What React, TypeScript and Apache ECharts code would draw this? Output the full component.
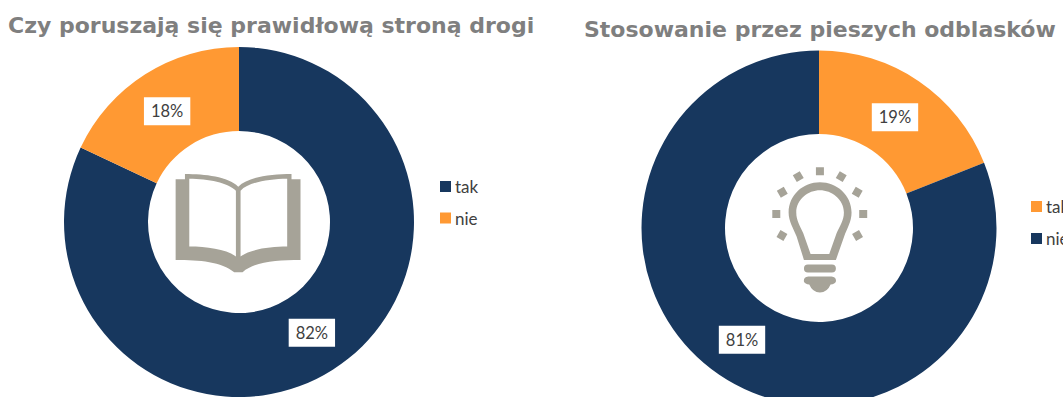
import React, { useEffect, useRef } from "react";
import * as echarts from "echarts";

// Road-safety survey: two doughnuts with an icon in each hole.
const leftTitle = "Czy poruszają się prawidłową stroną drogi";
const rightTitle = "Stosowanie przez pieszych odblasków";
const leftNames = ["tak", "nie"];
const leftValues = [82, 18];
const rightNames = ["tak", "nie"];
const rightValues = [19, 81];

const NAVY = "#17375E";
const ORANGE = "#FF9933";
const ICON = "#A6A398";
const LABEL_FONT = "Lato";

const bookPath =
  "M107,88 L135,88 L135,72 C195,72 265,80 295,110 C325,80 395,72 455,72 L455,88 L482,88 L482,330 " +
  "C410,330 345,335 308,367 L283,367 C245,335 180,330 107,330 Z " +
  "M148,86 L148,290 C200,290 260,298 288,320 L288,122 C265,98 205,86 148,86 Z " +
  "M442,86 C385,86 325,98 302,122 L302,320 C330,298 390,290 442,290 Z";

// Small rotated square used for the rays around the bulb.
function ray(cx: number, cy: number, deg: number) {
  const h = 12;
  const a = (deg * Math.PI) / 180;
  const c = Math.cos(a);
  const s = Math.sin(a);
  const pts = [
    [-h, -h],
    [h, -h],
    [h, h],
    [-h, h],
  ].map(([x, y]) => `${(cx + x * c - y * s).toFixed(1)},${(cy + x * s + y * c).toFixed(1)}`);
  return `M${pts[0]} L${pts[1]} L${pts[2]} L${pts[3]} Z `;
}

const bulbPath =
  "M240,97 C190,97 146,135 146,188 C146,215 160,235 170,260 L192,330 L288,330 L312,262 " +
  "C322,235 335,215 335,188 C335,135 290,97 240,97 Z " +
  "M240,121 C275,121 312,148 312,188 C312,212 300,228 290,250 L268,312 L212,312 L190,250 " +
  "C180,228 169,212 169,188 C169,148 205,121 240,121 Z " +
  "M204,344 L276,344 A12,12 0 0 1 276,368 L204,368 A12,12 0 0 1 204,344 Z " +
  "M205,380 L275,380 Q290,382 288,395 Q285,403 272,404 Q262,428 240,428 Q218,428 208,404 " +
  "Q195,403 192,395 Q190,382 205,380 Z " +
  ray(240, 64, 0) +
  ray(175, 80, -30) +
  ray(304, 80, 30) +
  ray(127, 127, -30) +
  ray(352, 127, 30) +
  ray(109, 192, 0) +
  ray(370, 192, 0) +
  ray(126, 257, 30) +
  ray(353, 257, -30);

echarts.graphic.registerShape("bookIcon", echarts.graphic.extendPath(bookPath, {}));
echarts.graphic.registerShape("bulbIcon", echarts.graphic.extendPath(bulbPath, {}));

const titleStyle = {
  fontFamily: "DejaVu Sans",
  fontWeight: "bold" as const,
  fontSize: 22,
  color: "#7F7F7F",
};

const sliceLabel = {
  show: true,
  position: "inside" as const,
  formatter: "{c}%",
  fontFamily: LABEL_FONT,
  fontSize: 16.5,
  color: "#404040",
  backgroundColor: "#FFFFFF",
  padding: [6, 7, 5, 7],
};

const legendBase = {
  orient: "vertical" as const,
  icon: "rect",
  itemWidth: 11,
  itemHeight: 11,
  selectedMode: false,
  textStyle: { fontFamily: LABEL_FONT, fontSize: 17, color: "#404040", padding: [0, 0, 0, -1] },
};

export default function App() {
  const ref = useRef<HTMLDivElement>(null);

  useEffect(() => {
    document.body.style.margin = "0";
    document.body.style.overflow = "hidden";
    const chart = echarts.init(ref.current!, null, { renderer: "svg" });
    const leftColors = [NAVY, ORANGE];
    const rightColors = [ORANGE, NAVY];
    chart.setOption({
      animation: false,
      backgroundColor: "#FFFFFF",
      title: [
        { text: leftTitle, left: 3, top: 9, textStyle: titleStyle },
        { text: rightTitle, left: 579, top: 13, textStyle: titleStyle },
      ],
      legend: [
        {
          ...legendBase,
          itemGap: 14.5,
          left: 435,
          top: 173,
          data: leftNames.map((name, i) => ({ name, itemStyle: { color: leftColors[i] } })),
        },
        {
          ...legendBase,
          itemGap: 15,
          left: 1026,
          top: 193,
          data: rightNames.map((name, i) => ({ name, itemStyle: { color: rightColors[i] } })),
        },
      ],
      series: [
        {
          type: "pie",
          center: [239, 222],
          radius: [91, 175],
          startAngle: 90,
          clockwise: true,
          silent: true,
          label: sliceLabel,
          labelLine: { show: false },
          // Nudge each value tag a little towards the hole.
          labelLayout: (p: { dataIndex: number }) =>
            p.dataIndex === 0 ? { dx: 0, dy: -4 } : { dx: 1, dy: 4 },
          data: leftNames.map((name, i) => ({
            name,
            value: leftValues[i],
            itemStyle: { color: leftColors[i] },
          })),
        },
        {
          type: "pie",
          center: [819, 228],
          radius: [94, 177.5],
          startAngle: 90,
          clockwise: true,
          silent: true,
          label: sliceLabel,
          labelLine: { show: false },
          labelLayout: (p: { dataIndex: number }) =>
            p.dataIndex === 0 ? { dx: -2, dy: 4 } : { dx: 1, dy: -3 },
          data: rightNames.map((name, i) => ({
            name,
            value: rightValues[i],
            itemStyle: { color: rightColors[i] },
          })),
        },
      ],
      graphic: [
        { type: "bookIcon", x: 140, y: 150, scaleX: 1 / 3, scaleY: 1 / 3, style: { fill: ICON } },
        { type: "bulbIcon", x: 740, y: 150, scaleX: 1 / 3, scaleY: 1 / 3, style: { fill: ICON } },
      ],
    });
    return () => chart.dispose();
  }, []);

  return <div ref={ref} style={{ width: 1063, height: 397 }} />;
}
